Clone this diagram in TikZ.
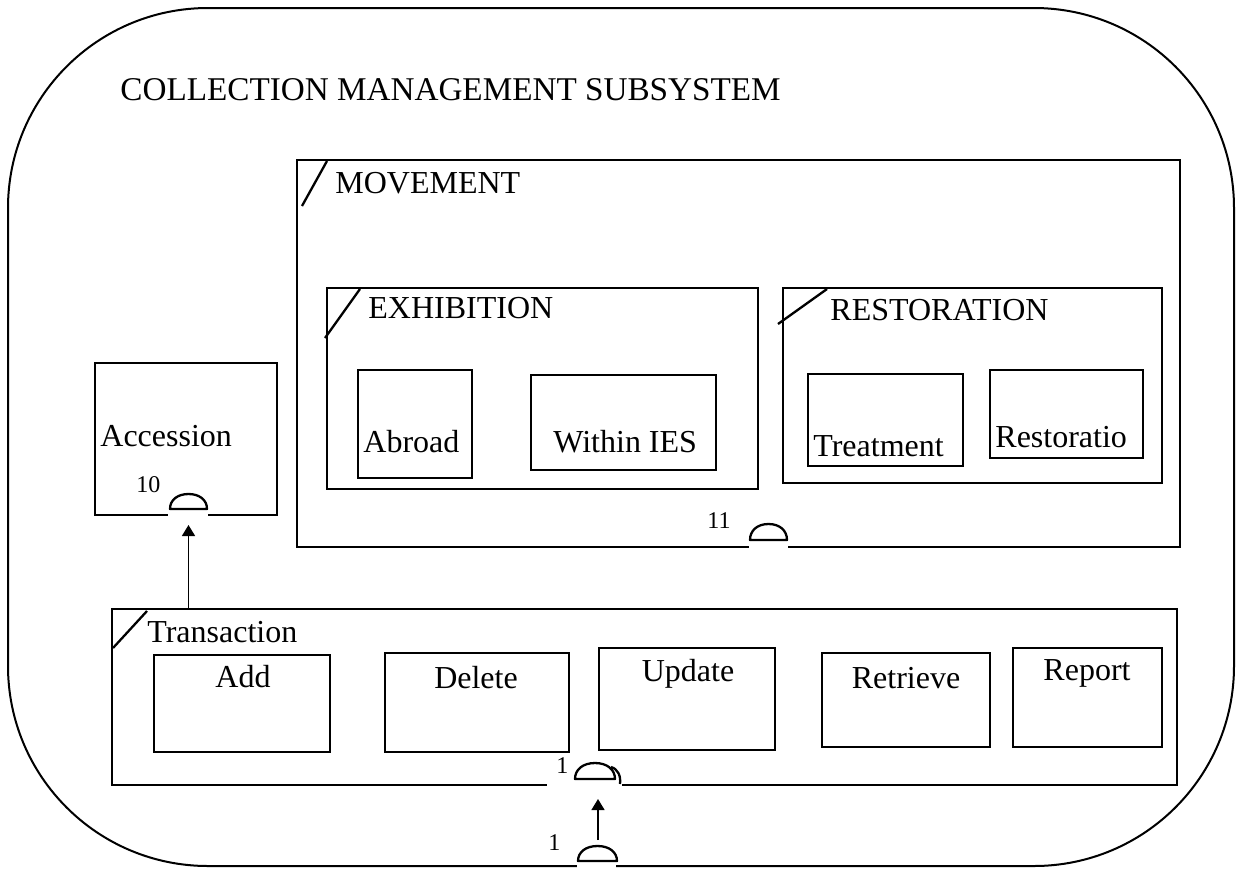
\documentclass[tikz,border=0pt]{standalone}
\usepackage{fontspec}
\setmainfont{Liberation Serif}
\usetikzlibrary{fit,arrows.meta}

% port symbol: flat-based dome from x=#1 to x=#2, base at y=#3, top at y=#4
\newcommand\portdome[4]{%
  \draw[portline]
    (#1,#3) .. controls ({#1},{#3-0.6*(#3-#4)}) and ({(#1+#2)/2-0.6*(#2-#1)/2},{#4}) ..
    ({(#1+#2)/2},{#4}) .. controls ({(#1+#2)/2+0.6*(#2-#1)/2},{#4}) and ({#2},{#3-0.6*(#3-#4)}) ..
    (#2,#3) -- cycle;}
% opening in a box edge at y=#3 between x=#1 and x=#2
\newcommand\edgegap[3]{\fill[white] (#1,{#3-4}) rectangle (#2,{#3+4});}

\begin{document}
\begin{tikzpicture}[x=0.5pt,y=-0.5pt,
  box/.style={draw, line width=1.15pt, inner sep=0pt},
  portline/.style={line width=1.15pt, line join=round},
  lbl/.style={anchor=base west, inner sep=0pt, font=\fontsize{16}{18}\selectfont},
  clbl/.style={anchor=base, inner sep=0pt, font=\fontsize{16}{18}\selectfont},
  num/.style={anchor=base west, inner sep=0pt, font=\fontsize{12}{14}\selectfont},
  flow/.style={line width=0.7pt, -{Triangle[length=5.5pt,width=6.5pt]}},
  corner/.style={line width=1.15pt},
]
\useasboundingbox (0,0) rectangle (1242,869);

% subsystem boundary
\node[draw, line width=1pt, rounded corners=100pt, inner sep=0pt,
      fit={(8,8) (1234,866)}] (cms) {};
\node[lbl, font=\fontsize{16.6}{18}\selectfont] (cmsT) at (120,100) {COLLECTION MANAGEMENT SUBSYSTEM};

% MOVEMENT package
\node[box, fit={(297,160) (1180,547)}] (move) {};
\draw[corner] (302,206) -- (327,161);
\node[lbl] (moveT) at (335,193) {MOVEMENT};

\node[box, fit={(327,288) (758,489)}] (exhib) {};
\draw[corner] (325,338) -- (360,289);
\node[lbl] (exhibT) at (368,318) {EXHIBITION};
\node[box, fit={(358,370) (472,478)}] (abroad) {};
\node[lbl] (abroadT) at (363,452) {Abroad};
\node[box, fit={(531,375) (716,470)}] (within) {};
\node[lbl] (withinT) at (553,452) {Within IES};

\node[box, fit={(783,288) (1162,483)}] (resto) {};
\draw[corner] (778,324) -- (827,289);
\node[lbl] (restoT) at (830,320) {RESTORATION};
\node[box, fit={(808,374) (963,466)}] (treat) {};
\node[lbl] (treatT) at (813,456) {Treatment};
\node[box, fit={(990,370) (1143,458)}] (restor) {};
\node[lbl] (restorT) at (995,447) {Restoratio};

% Accession
\node[box, fit={(95,363) (277,515)}] (acc) {};
\node[lbl] (accT) at (100,446) {Accession};

% Transaction package
\node[box, fit={(112,609) (1177,785)}] (trans) {};
\draw[corner] (113,648) -- (147,611);
\node[lbl] (transT) at (147,642) {Transaction};
\node[box, fit={(154,655) (330,752)}] (add) {};
\node[clbl] (addT) at (243,687) {Add};
\node[box, fit={(385,653) (569,752)}] (del) {};
\node[clbl] (delT) at (476,688) {Delete};
\node[box, fit={(599,648) (775,750)}] (upd) {};
\node[clbl] (updT) at (688,681) {Update};
\node[box, fit={(822,653) (990,747)}] (retr) {};
\node[clbl] (retrT) at (906,688) {Retrieve};
\node[box, fit={(1013,648) (1162,747)}] (rep) {};
\node[clbl] (repT) at (1087,680) {Report};

% ports
\edgegap{168}{208}{515}
\portdome{170}{207}{509}{494}
\coordinate (p10) at (188.5,509);
\node[num] (n10) at (136,492) {10};

\edgegap{749}{788}{547}
\portdome{750}{787}{540}{524}
\coordinate (p11) at (768.5,540);
\node[num] (n11) at (707,528) {11};

\edgegap{547}{622}{785}
\portdome{575}{615}{779}{763}
\draw[portline] (611,767) .. controls (618,769) and (621,776) .. (620,784);
\coordinate (p1) at (598,779);
\node[num] (n1a) at (556,773) {1};

\edgegap{577}{616}{866}
\portdome{578}{617}{861}{846}
\coordinate (p1in) at (598,846);
\node[num] (n1b) at (548,850) {1};

% connectors
\draw[flow, shorten >=8pt] (trans.north -| p10) -- (p10);
\draw[flow, shorten <=3pt, shorten >=10pt] (p1in) -- (p1);
\end{tikzpicture}
\end{document}
